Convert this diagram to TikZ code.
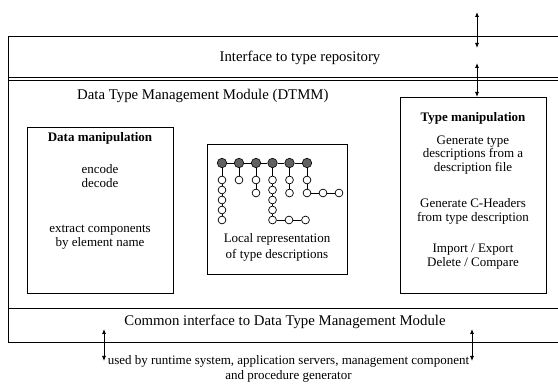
\documentclass[tikz,border=0pt]{standalone}
\usepackage{fontspec}
\setmainfont{Liberation Serif}
\usetikzlibrary{arrows.meta}

\begin{document}
\begin{tikzpicture}[x=1pt,y=-1pt,
  frame/.style={line width=0.9pt},
  box/.style={draw, line width=0.9pt, inner sep=0pt},
  title/.style={font=\fontsize{14.8}{17}\selectfont},
  body/.style={font=\fontsize{13}{13.8}\selectfont, align=center},
  head/.style={font=\fontsize{13}{13.8}\selectfont\bfseries},
  dbl/.style={{Latex[length=5pt,width=4pt]}-{Latex[length=5pt,width=4pt]}, line width=0.8pt},
  root/.style={circle, draw, fill=black!62, minimum size=9.5pt, inner sep=0pt, line width=0.6pt},
  leaf/.style={circle, draw, fill=white, minimum size=7.8pt, inner sep=0pt, line width=0.7pt},
  link/.style={line width=0.7pt}]
\useasboundingbox (0,0) rectangle (558,387);

% outer frame, open on the right
\draw[frame] (558,36) -- (8,36) -- (8,342) -- (558,342);
\draw[frame] (8,77) -- (558,77);
\draw[frame] (8,80.5) -- (558,80.5);
\draw[frame] (8,308) -- (558,308);

% layer titles
\node[title] (repo) at (300,58) {Interface to type repository};
\node[title, anchor=west, inner sep=0pt] (dtmm) at (77,96) {Data Type Management Module (DTMM)};
\node[title] (common) at (285,322) {Common interface to Data Type Management Module};

% data manipulation
\node[box, minimum width=146pt, minimum height=166pt, anchor=north west] (datab) at (27,127) {};
\node[head] (datah) at (100,138) {Data manipulation};
\node[body, font=\fontsize{13}{14.2}\selectfont] (codec) at (100,176) {encode\\decode};
\node[body, font=\fontsize{13}{14.2}\selectfont] (extract) at (100,237.5) {extract components\\by element name};

% local representation
\node[box, minimum width=140pt, minimum height=130pt, anchor=north west] (localb) at (207,144) {};
\node[body, font=\fontsize{13}{16.5}\selectfont] (localt) at (277,247.5) {Local representation\\of type descriptions};

% tree of type descriptions
\foreach \i/\x in {1/222,2/239,3/256,4/272.5,5/289.5,6/307}
  \node[root] (r\i) at (\x,163) {};
\foreach \i/\y in {1/180,2/190,3/200,4/210,5/220}
  \node[leaf] (a\i) at (222,\y) {};
\node[leaf] (b1) at (239,180) {};
\node[leaf] (c1) at (256,180) {};
\node[leaf] (c2) at (256,193) {};
\foreach \i/\y in {1/180,2/190,3/200,4/210,5/220}
  \node[leaf] (d\i) at (272.5,\y) {};
\node[leaf] (d6) at (289,220) {};
\node[leaf] (d7) at (305.5,220) {};
\node[leaf] (e1) at (289.5,180) {};
\node[leaf] (e2) at (289.5,193) {};
\node[leaf] (f1) at (307,180) {};
\node[leaf] (f2) at (307,193) {};
\node[leaf] (f3) at (323,193) {};
\node[leaf] (f4) at (339,193) {};
\draw[link] (r1) -- (r2) -- (r3) -- (r4) -- (r5) -- (r6);
\draw[link] (r1) -- (a1) -- (a2) -- (a3) -- (a4) -- (a5);
\draw[link] (r2) -- (b1);
\draw[link] (r3) -- (c1) -- (c2);
\draw[link] (r4) -- (d1) -- (d2) -- (d3) -- (d4) -- (d5) -- (d6) -- (d7);
\draw[link] (r5) -- (e1) -- (e2);
\draw[link] (r6) -- (f1) -- (f2) -- (f3) -- (f4);

% type manipulation
\node[box, minimum width=146pt, minimum height=196pt, anchor=north west] (typeb) at (400,97) {};
\node[head] (typeh) at (473,118) {Type manipulation};
\node[body] (gendesc) at (473,155) {Generate type\\descriptions from a\\description file};
\node[body] (genhdr) at (473,211) {Generate C-Headers\\from type description};
\node[body] (impexp) at (473,256.5) {Import / Export\\Delete / Compare};

% users of the module
\node[font=\fontsize{13}{15.5}\selectfont, align=center, inner sep=0pt] (users) at (288.5,368.75)
  {used by runtime system, application servers, management component\\and procedure generator};

% interface arrows
\coordinate (repoup) at (477,12);
\coordinate (repodown) at (477,48);
\coordinate (dtmmup) at (477,63);
\coordinate (typetop) at (477,97);
\coordinate (lefttop) at (104,329);
\coordinate (leftbot) at (104,361);
\coordinate (righttop) at (472,329);
\coordinate (rightbot) at (472,361);
\draw[dbl] (repoup) -- (repodown);
\draw[dbl] (dtmmup) -- (typetop);
\draw[dbl] (lefttop) -- (leftbot);
\draw[dbl] (righttop) -- (rightbot);
\end{tikzpicture}
\end{document}
